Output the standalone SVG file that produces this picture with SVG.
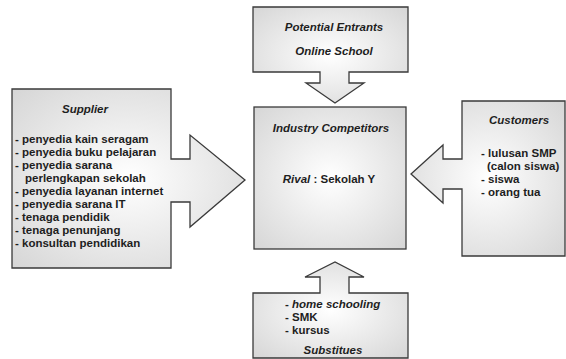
<svg xmlns="http://www.w3.org/2000/svg" width="566" height="359" viewBox="0 0 566 359">
<defs>
<radialGradient id="g" cx="0.5" cy="0.5" r="0.7">
<stop offset="0" stop-color="#ffffff"/>
<stop offset="1" stop-color="#d6d6d6"/>
</radialGradient>
</defs>
<style>
.shape{fill:url(#g);stroke:#3a3a3a;stroke-width:1.3}
text{font-family:"Liberation Sans",Arial,sans-serif;font-size:11.5px;font-weight:bold;fill:#1e1e1e}
.t{font-style:italic}
.c{text-anchor:middle}
</style>
<rect width="566" height="359" fill="#ffffff"/>
<g id="connectors"></g>
<g id="supplier">
<path class="shape" d="M12,89 H171 V159 H190 V135 L245,180 L190,227 V202 H171 V268 H12 Z"/>
<text class="t c" x="85" y="113">Supplier</text>
<text x="15" y="143">- penyedia kain seragam</text>
<text x="15" y="156">- penyedia buku pelajaran</text>
<text x="15" y="169">- penyedia sarana</text>
<text x="25" y="182">perlengkapan sekolah</text>
<text x="15" y="195">- penyedia layanan internet</text>
<text x="15" y="208">- penyedia sarana IT</text>
<text x="15" y="221">- tenaga pendidik</text>
<text x="15" y="234">- tenaga penunjang</text>
<text x="15" y="247">- konsultan pendidikan</text>
</g>
<g id="entrants">
<path class="shape" d="M253,7 H408 V72 H349 V83 H364 L335,103 L306,83 H320 V72 H253 Z"/>
<text class="t c" x="334" y="31">Potential Entrants</text>
<text class="t c" x="334" y="55">Online School</text>
</g>
<g id="competitors">
<rect class="shape" x="254" y="107" width="152" height="142"/>
<text class="t c" x="331" y="132">Industry Competitors</text>
<text class="c" x="329" y="183"><tspan font-style="italic">Rival</tspan> : Sekolah Y</text>
</g>
<g id="customers">
<path class="shape" d="M462,101 H565 V256 H462 V189 H443 V203 L411,174 L443,145 V159 H462 Z"/>
<text class="t c" x="519" y="124">Customers</text>
<text x="481" y="157">- lulusan SMP</text>
<text x="487" y="170">(calon siswa)</text>
<text x="481" y="183">- siswa</text>
<text x="481" y="196">- orang tua</text>
</g>
<g id="substitutes">
<path class="shape" d="M253,293 H320 V277 H305 L335,262 L364,277 H349 V293 H408 V358 H253 Z"/>
<text x="285" y="308">- <tspan font-style="italic">home schooling</tspan></text>
<text x="285" y="321">- SMK</text>
<text x="285" y="334">- kursus</text>
<text class="t c" x="333" y="354">Substitues</text>
</g>
</svg>
